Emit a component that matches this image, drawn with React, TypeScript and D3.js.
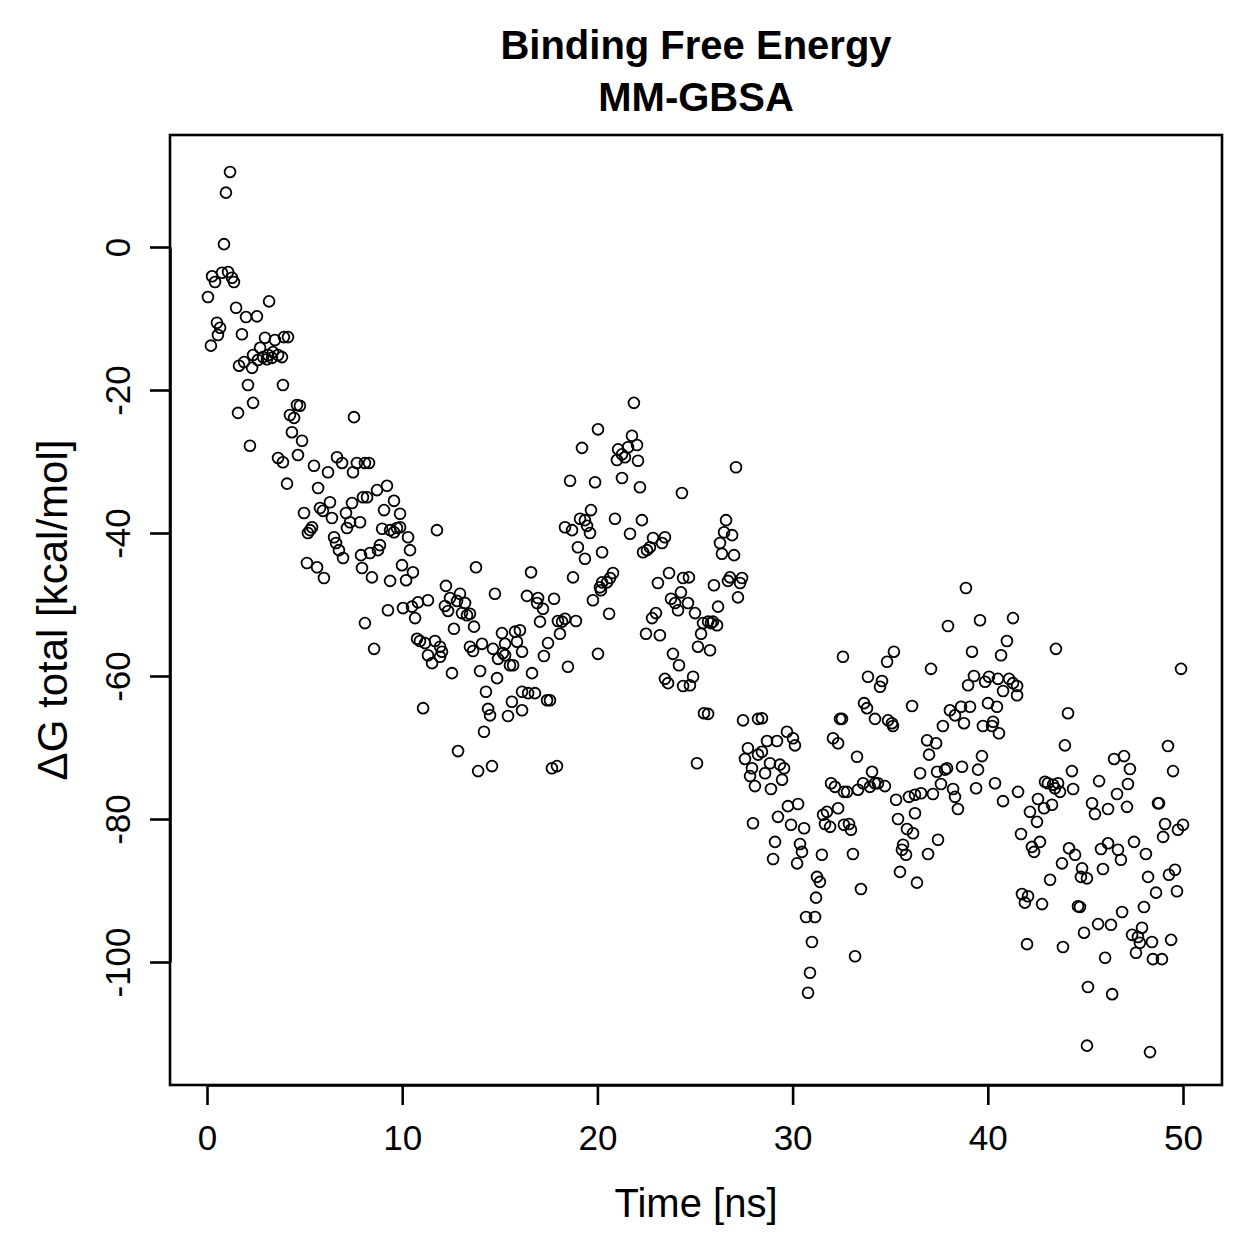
import React, { useEffect, useRef } from 'react';
import * as d3 from 'd3';

// [time (ns), ΔG total (kcal/mol)], split by time window
const seg0to5: [number, number][] = [
  [1.18, 10.5], [0.97, 7.6], [0.87, 0.4], [0.26, -4.1], [0.41, -4.9], [0.77, -3.6], [1.08, -3.5], [1.28, -4.3],
  [1.38, -4.9], [0.05, -7.0], [3.18, -7.6], [1.49, -8.5], [2.0, -9.8], [2.56, -9.7], [0.51, -10.6], [0.67, -11.3],
  [0.56, -12.3], [0.2, -13.8], [1.79, -12.2], [2.97, -12.7], [3.48, -13.0], [3.94, -12.6], [2.36, -15.1], [2.72, -14.1],
  [2.87, -15.4], [3.13, -15.1], [3.38, -14.7], [3.64, -15.1], [3.33, -15.5], [3.07, -15.7], [2.61, -15.8], [1.9, -16.1],
  [1.64, -16.6], [2.31, -16.9], [2.1, -19.3], [3.89, -19.3], [2.36, -21.8], [1.59, -23.2], [2.2, -27.8], [3.64, -29.5],
  [4.15, -12.6], [3.84, -15.4], [4.61, -22.1], [4.76, -22.2], [4.25, -23.5], [4.46, -23.9], [4.35, -25.9], [4.87, -27.1],
  [3.89, -30.1], [4.66, -29.1], [4.1, -33.1], [4.97, -37.2],
];
const seg5to10: [number, number][] = [
  [7.53, -23.8], [5.48, -30.6], [6.2, -31.5], [6.66, -29.4], [6.92, -30.2], [7.68, -30.2], [7.48, -31.5], [8.09, -30.2],
  [5.69, -33.7], [7.99, -35.0], [5.79, -36.5], [6.3, -35.7], [5.94, -36.9], [6.4, -37.9], [7.43, -35.8], [7.12, -37.2],
  [7.33, -38.5], [7.17, -39.3], [7.84, -38.5], [5.38, -39.2], [5.17, -40.0], [5.28, -39.6], [6.51, -40.6], [6.61, -41.4],
  [6.76, -42.4], [6.97, -43.5], [7.89, -43.1], [7.94, -44.9], [5.12, -44.2], [5.64, -44.8], [5.99, -46.3],
  [8.3, -30.2], [9.22, -33.4], [8.71, -34.0], [8.2, -35.0], [9.58, -35.5], [9.89, -37.3], [9.07, -36.8], [8.97, -39.4],
  [9.38, -39.6], [9.73, -39.3], [9.89, -39.2], [9.58, -39.9], [8.86, -41.7], [8.76, -42.4], [8.35, -42.8], [9.99, -44.5],
  [8.45, -46.2], [9.38, -46.7], [9.27, -50.8], [8.09, -52.6], [8.56, -56.2],
];
const seg10to15: [number, number][] = [
  [10.3, -40.6], [10.4, -42.4], [11.78, -39.6], [10.55, -45.5], [10.2, -46.6], [11.32, -49.4], [10.81, -49.7], [10.5, -50.3],
  [10.04, -50.5], [10.66, -51.9], [10.76, -54.8], [10.91, -55.1], [11.17, -55.4], [11.68, -55.1], [11.94, -55.9], [11.32, -57.1],
  [11.53, -58.2], [11.94, -57.3], [12.04, -56.6], [11.07, -64.5],
  [13.78, -44.8], [12.24, -47.4], [12.45, -49.1], [12.96, -48.5], [12.19, -50.2], [12.35, -50.9], [12.81, -49.5], [13.22, -49.8],
  [13.06, -51.2], [13.32, -51.5], [13.47, -51.3], [14.75, -48.5], [12.65, -53.4], [13.68, -53.1], [12.55, -59.6], [13.47, -55.9],
  [13.63, -56.5], [14.09, -55.5], [14.65, -56.2], [14.91, -57.6], [13.99, -59.3], [14.86, -60.3], [14.29, -62.2], [14.4, -64.6],
  [14.5, -65.5], [14.19, -67.8], [12.86, -70.5], [13.89, -73.3], [14.6, -72.6],
];
const seg15to20: [number, number][] = [
  [15.11, -54.0], [15.27, -55.5], [15.78, -53.8], [16.03, -53.6], [15.88, -55.2], [16.14, -56.6], [15.27, -57.1], [15.52, -58.5],
  [15.68, -58.5], [15.16, -56.8], [15.62, -63.6], [16.14, -62.2], [15.42, -65.6], [16.14, -64.8],
  [18.6, -32.7], [19.88, -32.9], [19.21, -28.1], [19.67, -36.8], [19.11, -38.0], [19.36, -38.2], [19.47, -39.0], [19.62, -40.0],
  [18.34, -39.2], [18.7, -39.6], [19.0, -42.0], [19.36, -43.6], [16.6, -45.5], [18.75, -46.2], [19.77, -49.4], [16.39, -48.8],
  [16.96, -49.1], [16.91, -49.8], [17.21, -50.6], [17.78, -49.2], [17.06, -52.4], [17.98, -52.3], [18.19, -52.4], [18.34, -52.0],
  [18.9, -52.3], [18.08, -54.1], [17.47, -55.4], [17.26, -57.2], [16.65, -59.6], [18.49, -58.7], [16.45, -62.4], [16.8, -62.4],
  [17.42, -63.4], [17.57, -63.4], [17.67, -72.9], [17.93, -72.6],
];
const seg20to25: [number, number][] = [
  [20.03, -25.5], [20.24, -42.7], [20.24, -46.9], [20.18, -48.0], [20.03, -56.9],
  [21.87, -21.8], [21.77, -26.4], [22.03, -27.7], [21.57, -28.0], [21.06, -28.3], [21.0, -29.8], [21.41, -29.4], [21.26, -29.0],
  [22.08, -29.9], [21.26, -32.3], [22.18, -33.6], [24.33, -34.4], [20.9, -38.0], [22.28, -38.2], [21.67, -40.1], [22.85, -40.7],
  [23.46, -40.6], [23.31, -41.4], [22.69, -42.0], [22.54, -42.4], [22.34, -42.7], [23.67, -45.6], [23.1, -47.0], [20.8, -45.6],
  [20.65, -46.3], [20.49, -46.9], [20.13, -47.6], [24.39, -46.3], [24.28, -48.3], [23.77, -49.2], [23.98, -49.8], [24.13, -50.8],
  [20.6, -51.3], [23.0, -51.2], [22.8, -51.9], [22.49, -54.1], [23.2, -54.3], [23.87, -56.9], [24.18, -58.5], [23.46, -60.4],
  [23.62, -61.0], [24.39, -61.4], [24.69, -46.2], [24.64, -49.8], [24.74, -61.3], [24.9, -60.1],
];
const seg25to30: [number, number][] = [
  [27.1, -30.8], [26.59, -38.2], [26.49, -39.9], [26.9, -40.3], [26.28, -41.4], [26.38, -42.9], [27.0, -43.1], [26.79, -46.2],
  [26.69, -46.7], [27.41, -46.3], [27.31, -47.0], [25.97, -47.3], [27.2, -49.0], [25.0, -51.2], [26.18, -50.3], [25.41, -52.6],
  [25.67, -52.4], [25.92, -52.4], [26.13, -52.9], [25.82, -52.6], [25.31, -54.1], [25.15, -55.9], [25.77, -56.4], [25.46, -65.2],
  [25.67, -65.3], [25.1, -72.2], [27.46, -66.2], [28.23, -66.0], [28.43, -65.9], [27.71, -70.1], [27.56, -71.6], [27.92, -72.9],
  [27.82, -74.0], [28.07, -75.4], [28.23, -71.0], [28.43, -70.6], [27.97, -80.6],
  [29.71, -67.8], [28.69, -69.1], [29.2, -69.1], [28.84, -72.2], [29.35, -72.4], [29.56, -72.9], [28.59, -73.6], [28.89, -75.8],
  [29.46, -74.5], [29.76, -78.2], [29.25, -79.7], [29.92, -80.8], [29.1, -83.2], [29.0, -85.6],
];
const seg30to35: [number, number][] = [
  [30.02, -68.7], [30.12, -69.7], [32.43, -66.0], [32.53, -66.0], [32.07, -68.7], [32.33, -69.4], [31.97, -75.0], [32.17, -75.5],
  [32.63, -76.2], [30.28, -77.9], [30.59, -81.3], [31.56, -79.4], [31.76, -79.0], [32.33, -78.5], [31.66, -80.7], [31.92, -81.1],
  [32.63, -80.8], [30.23, -86.2], [30.38, -83.5], [30.48, -84.6], [31.5, -85.0], [31.25, -88.1], [31.4, -88.8], [31.2, -91.0],
  [30.69, -93.7], [31.15, -93.7], [30.99, -97.2], [30.89, -101.5], [30.79, -104.3],
  [32.58, -57.3], [34.84, -58.0], [33.86, -60.1], [34.58, -60.7], [34.48, -61.5], [33.66, -63.8], [33.81, -64.5], [34.22, -66.0],
  [34.89, -66.2], [33.3, -71.3], [34.07, -73.4], [33.61, -75.0], [33.35, -75.9], [33.96, -75.5], [34.22, -75.0], [34.37, -75.0],
  [34.73, -75.4], [32.79, -76.2], [32.89, -80.7], [32.99, -81.5], [33.09, -84.9], [33.5, -89.8], [33.2, -99.2],
];
const seg35to40: [number, number][] = [
  [35.19, -56.6], [36.12, -64.2], [35.09, -66.6], [35.14, -67.0], [36.53, -73.6], [36.58, -76.4], [36.27, -76.6], [35.96, -76.9],
  [35.3, -77.3], [36.27, -79.2], [35.4, -80.0], [35.86, -81.4], [36.17, -82.0], [35.66, -83.6], [35.6, -84.3], [35.81, -85.0],
  [35.5, -87.4], [36.37, -88.9],
  [38.88, -47.7], [39.6, -52.2], [37.96, -53.0], [39.19, -56.6], [37.09, -59.0], [39.29, -60.0], [38.99, -61.3], [39.86, -60.8],
  [38.06, -64.8], [38.32, -65.5], [38.63, -64.3], [39.09, -64.3], [38.78, -66.6], [39.75, -67.0], [37.7, -67.0], [36.89, -69.0],
  [37.35, -69.4], [36.99, -71.0], [39.7, -71.2], [39.5, -73.1], [38.68, -72.7], [37.91, -72.9], [37.81, -73.1], [37.4, -73.4],
  [37.6, -75.1], [37.19, -76.5], [38.22, -75.8], [38.32, -76.9], [38.47, -78.6], [39.4, -75.7], [37.45, -82.9], [36.94, -84.9],
];
const seg40to45: [number, number][] = [
  [40.06, -60.1], [40.01, -63.8], [40.47, -64.3], [40.27, -66.4], [40.22, -67.0], [40.57, -68.0], [40.37, -75.0], [40.78, -77.5],
  [40.98, -55.1], [40.68, -57.1], [41.29, -51.9], [41.09, -60.4], [41.29, -61.0], [41.5, -61.4], [40.78, -62.1], [41.5, -62.7],
  [40.52, -60.4], [43.49, -56.2], [44.11, -65.2], [43.95, -69.7], [44.31, -73.3], [44.37, -75.8], [41.55, -76.2], [42.93, -74.8],
  [43.08, -75.0], [43.34, -75.2], [43.6, -75.0], [43.7, -76.2], [43.44, -75.7], [42.57, -77.2], [42.88, -78.5], [43.29, -78.0],
  [42.16, -79.0], [42.52, -80.4], [41.7, -82.1], [42.67, -83.2], [42.26, -83.9], [42.37, -84.6], [44.16, -84.1], [44.47, -85.0],
  [43.8, -86.2], [44.83, -86.9], [44.77, -88.1], [43.19, -88.5], [41.75, -90.5], [42.06, -90.8], [41.9, -91.7], [42.78, -91.9],
  [44.62, -92.2], [44.72, -92.3], [44.93, -95.9], [42.01, -97.5], [43.85, -97.9],
];
const seg45to50: [number, number][] = [
  [45.08, -88.3], [45.13, -103.5], [45.08, -111.7],
  [49.9, -59.0], [49.23, -69.8], [46.47, -71.6], [46.98, -71.2], [47.28, -73.0], [49.49, -73.3], [45.7, -74.7], [47.18, -75.1],
  [46.62, -76.5], [45.34, -77.8], [45.49, -79.3], [46.16, -78.6], [47.13, -78.3], [48.72, -77.8], [48.77, -77.8], [49.08, -80.7],
  [48.98, -82.5], [49.74, -81.5], [50.0, -80.8], [46.16, -83.4], [45.8, -84.2], [46.67, -84.3], [46.82, -85.7], [47.49, -83.2],
  [48.1, -84.9], [45.9, -87.0], [48.21, -88.1], [49.28, -87.8], [49.59, -87.1], [49.69, -90.1], [48.62, -90.3], [48.0, -92.3],
  [46.88, -93.0], [45.65, -94.7], [46.31, -94.8], [47.9, -95.2], [47.39, -96.2], [47.69, -96.5], [47.79, -97.3], [48.41, -97.2],
  [49.39, -96.9], [47.59, -98.7], [48.46, -99.6], [48.92, -99.6], [46.01, -99.4], [46.37, -104.5], [48.31, -112.6],
];

const xTicks = [0, 10, 20, 30, 40, 50];
const yTicks = [0, -20, -40, -60, -80, -100];
const titleLines = ['Binding Free Energy', 'MM-GBSA'];
const xLabel = 'Time [ns]';
const yLabel = 'ΔG total [kcal/mol]';

const FONT = '"Liberation Sans", Arial, Helvetica, sans-serif';

const App = () => {
  const ref = useRef<SVGSVGElement>(null);

  useEffect(() => {
    const svg = d3.select(ref.current);
    svg.selectAll('*').remove();

    const box = { left: 170, right: 1222, top: 135, bottom: 1085 };

    const x = d3.scaleLinear().domain([0, 50]).range([207, 1183]);
    const y = d3.scaleLinear().domain([0, -100]).range([247, 962]);

    const points = [
      ...seg0to5, ...seg5to10, ...seg10to15, ...seg15to20, ...seg20to25,
      ...seg25to30, ...seg30to35, ...seg35to40, ...seg40to45, ...seg45to50,
    ];

    // points
    svg.append('g')
      .selectAll('circle')
      .data(points)
      .enter().append('circle')
      .attr('cx', d => x(d[0]))
      .attr('cy', d => y(d[1]))
      .attr('r', 5.4)
      .style('fill', 'none')
      .style('stroke', 'black')
      .style('stroke-width', 1.8);

    // frame
    svg.append('rect')
      .attr('x', box.left)
      .attr('y', box.top)
      .attr('width', box.right - box.left)
      .attr('height', box.bottom - box.top)
      .style('fill', 'none')
      .style('stroke', 'black')
      .style('stroke-width', 2.6);

    const xAxis = d3.axisBottom(x).tickValues(xTicks).tickSize(20).tickSizeOuter(0).tickFormat(d => String(d));
    const gx = svg.append('g')
      .attr('transform', `translate(0,${box.bottom})`)
      .call(xAxis);
    gx.select('.domain').style('stroke-width', 2.6);
    gx.selectAll('line').style('stroke-width', 2.6);
    gx.selectAll('text')
      .attr('y', 65)
      .attr('dy', null)
      .style('font-family', FONT)
      .style('font-size', '35px')
      .style('fill', 'black');

    const yAxis = d3.axisLeft(y).tickValues(yTicks).tickSize(20).tickSizeOuter(0).tickFormat(d => String(d));
    const gy = svg.append('g')
      .attr('transform', `translate(${box.left},0)`)
      .call(yAxis);
    gy.select('.domain').style('stroke-width', 2.6);
    gy.selectAll('line').style('stroke-width', 2.6);
    gy.selectAll('text')
      .attr('x', 0)
      .attr('y', -40)
      .attr('dy', null)
      .attr('transform', 'rotate(-90)')
      .style('text-anchor', 'middle')
      .style('font-family', FONT)
      .style('font-size', '35px')
      .style('fill', 'black');

    const midX = (box.left + box.right) / 2;
    const midY = (box.top + box.bottom) / 2;

    svg.selectAll('.title')
      .data(titleLines)
      .enter().append('text')
      .attr('class', 'title')
      .attr('x', midX)
      .attr('y', (d, i) => 59 + i * 52)
      .style('text-anchor', 'middle')
      .style('font-family', FONT)
      .style('font-weight', 'bold')
      .style('font-size', '40px')
      .text(d => d);

    svg.append('text')
      .attr('x', midX)
      .attr('y', 1217)
      .style('text-anchor', 'middle')
      .style('font-family', FONT)
      .style('font-size', '40px')
      .text(xLabel);

    svg.append('text')
      .attr('transform', `translate(67,${midY}) rotate(-90)`)
      .style('text-anchor', 'middle')
      .style('font-family', FONT)
      .style('font-size', '42px')
      .text(yLabel);
  }, []);

  return (
    <svg
      ref={ref}
      width={1259}
      height={1259}
      style={{ position: 'absolute', left: 0, top: 0, background: 'white' }}
    />
  );
};

export default App;
